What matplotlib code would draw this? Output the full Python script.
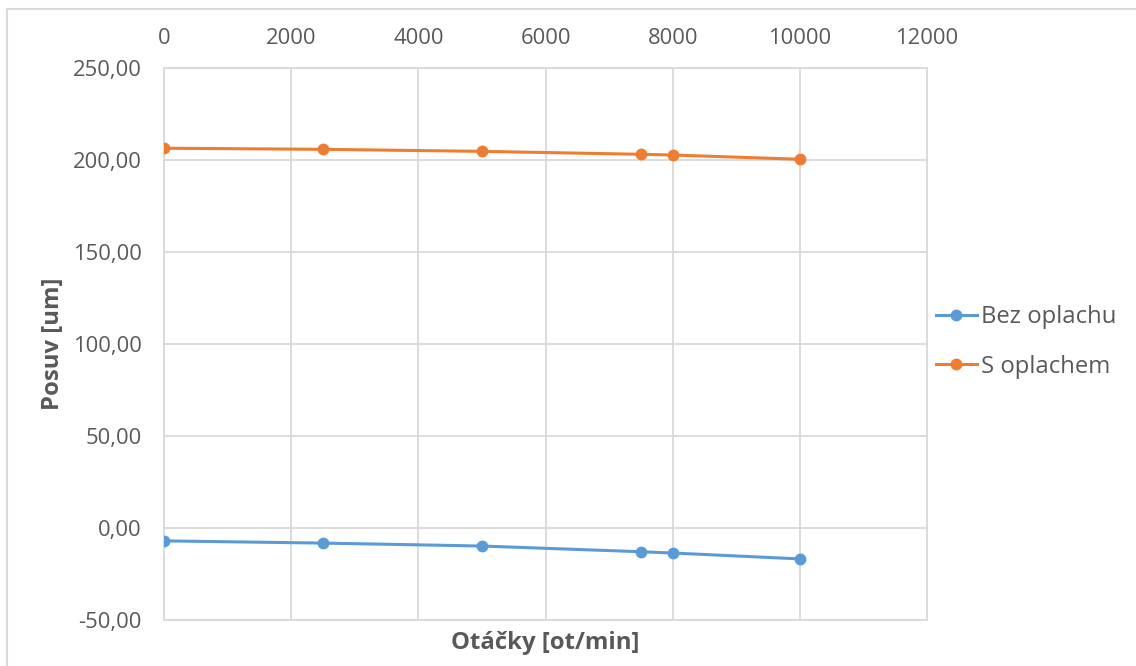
import matplotlib
matplotlib.use("Agg")
import matplotlib.pyplot as plt
from matplotlib.lines import Line2D
from matplotlib.ticker import FuncFormatter

# Spindle speed [rpm] and measured displacement [um]
otacky = [0, 2500, 5000, 7500, 8000, 10000]
bez_oplachu = [-7.0, -8.2, -9.8, -12.9, -13.6, -16.8]
s_oplachem = [206.4, 205.8, 204.7, 203.1, 202.7, 200.4]

series_names = ["Bez oplachu", "S oplachem"]
x_ticks = [0, 2000, 4000, 6000, 8000, 10000, 12000]
y_ticks = [-50, 0, 50, 100, 150, 200, 250]

plt.rcParams["font.family"] = ["Open Sans", "DejaVu Sans"]
TEXT = "#595959"
GRID = "#d9d9d9"

W, H = 1136, 666
fig = plt.figure(figsize=(W / 100, H / 100), dpi=100)
ax = fig.add_axes([164 / W, 1 - 620 / H, (927 - 164) / W, (620 - 68) / H])

ax.plot(otacky, bez_oplachu, color="#5B9BD5", lw=2.2, marker="o", ms=7.5,
        label=series_names[0], zorder=3)
ax.plot(otacky, s_oplachem, color="#ED7D31", lw=2.2, marker="o", ms=7.5,
        label=series_names[1], zorder=3)

ax.set_xlim(x_ticks[0], x_ticks[-1])
ax.set_ylim(y_ticks[0], y_ticks[-1])
ax.set_xticks(x_ticks)
ax.set_yticks(y_ticks)
ax.yaxis.set_major_formatter(FuncFormatter(lambda v, p: f"{v:.2f}".replace(".", ",")))
ax.xaxis.tick_top()
ax.tick_params(axis="both", length=0, labelsize=15.8, colors=TEXT)
ax.tick_params(axis="x", pad=13.5)
ax.tick_params(axis="y", pad=16)
ax.grid(True, color=GRID, lw=1.3, zorder=0)
ax.set_axisbelow(True)
for s in ax.spines.values():
    s.set_color(GRID)
    s.set_linewidth(1.3)

ax.set_xlabel("Otáčky [ot/min]", fontsize=17.2, fontweight="bold", color=TEXT, labelpad=8)
ax.xaxis.set_label_position("bottom")
ax.set_ylabel("Posuv [um]", fontsize=17.2, fontweight="bold", color=TEXT)
ax.yaxis.set_label_coords((65 - 164) / (927 - 164), 0.5)

leg = ax.legend(loc="center left", bbox_to_anchor=(914 / W, 1 - 342 / H),
                bbox_transform=fig.transFigure, frameon=False, fontsize=17.2,
                handlelength=1.75, handletextpad=0.15, labelspacing=1.05)
for t in leg.get_texts():
    t.set_color(TEXT)

# outer chart frame
fig.add_artist(Line2D([7 / W, 7 / W], [0, 1 - 9 / H], color=GRID, lw=1.5,
                      transform=fig.transFigure))
fig.add_artist(Line2D([7 / W, 1], [1 - 9 / H, 1 - 9 / H], color=GRID, lw=1.5,
                      transform=fig.transFigure))

fig.savefig("out.png", dpi=100)
